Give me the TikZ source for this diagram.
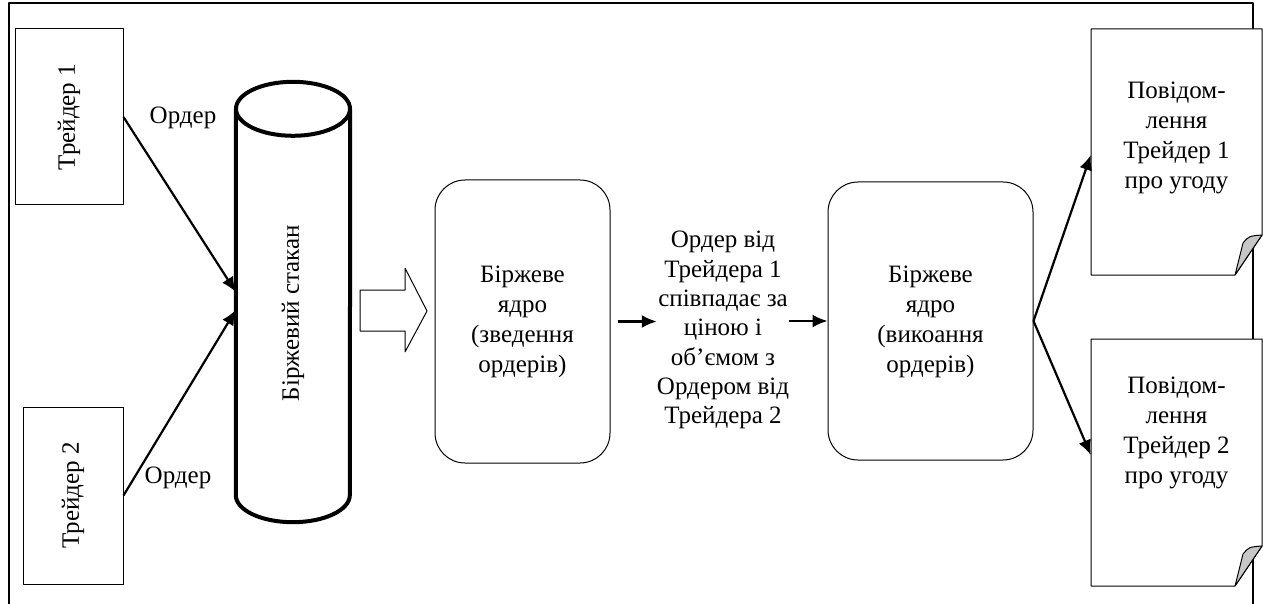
\documentclass[tikz,border=0pt]{standalone}
\usepackage{fontspec}
\setmainfont{Liberation Serif}
\usepackage{graphicx}
\usetikzlibrary{arrows.meta,positioning}

\tikzset{
  every node/.style={font=\fontsize{25}{30}\selectfont, inner sep=0pt},
  traderbox/.style={draw, line width=1pt, fill=white},
  corebox/.style={draw, line width=1pt, rounded corners=30pt},
  msgline/.style={draw, line width=1pt, fill=white},
  curlfill/.style={draw, line width=1pt, fill=black!22},
  cylline/.style={line width=4pt},
  edge/.style={draw, line width=2.2pt, -{Latex[length=15pt,width=13pt]}},
}

\begin{document}
\begin{tikzpicture}[x=1pt,y=-1pt,line join=bevel]
  \useasboundingbox (0,0) rectangle (1263,604);
  % Frame
  \draw[line width=2.5pt] (9,604) -- (9,3) -- (1253,3) -- (1253,604);
%%
  % Node: trader1
  \node[traderbox, minimum width=108pt, minimum height=176pt] (trader1) at (69,117) {\rotatebox{90}{Трейдер 1}};
  % Node: trader2
  \node[traderbox, minimum width=100pt, minimum height=177pt] (trader2) at (73,495.5) {\rotatebox{90}{Трейдер 2}};
  % Node: stakan
  \node[minimum width=114pt, minimum height=440pt] (stakan) at (293,302) {\rotatebox{90}{Біржевий стакан\hspace{22pt}}};
  \draw[cylline] ([yshift=-27pt]stakan.north west) -- ([yshift=27pt]stakan.south west)
    arc[start angle=180, end angle=360, x radius=57pt, y radius=27pt]
    -- ([yshift=-27pt]stakan.north east);
  \draw[cylline] ([yshift=-27pt]stakan.north) ellipse [x radius=57pt, y radius=27pt];
  % Node: core1
  \node[corebox, minimum width=175pt, minimum height=283pt] (core1) at (522.5,321.5) {\raisebox{9pt}{\begin{tabular}{@{}c@{}}
                        Біржеве \\ ядро \\ (зведення \\ ордерів)
                        \end{tabular}}};
  % Node: match
  \node[font=\fontsize{25}{29.3}\selectfont] (match) at (723,330) {\begin{tabular}{@{}c@{}}
                        Ордер від \\ Трейдера 1 \\ співпадає за \\ ціною і \\ об’ємом з \\ Ордером від \\ Трейдера 2
                        \end{tabular}};
  % Node: core2
  \node[corebox, minimum width=205pt, minimum height=278pt] (core2) at (930.5,321) {\begin{tabular}{@{}c@{}}
                        Біржеве \\ ядро \\ (викоання \\ ордерів)
                        \end{tabular}};
  % Node: msg1
  \draw[msgline] (1091,29) -- (1262,29) -- (1262,235) -- (1235,275) -- (1091,275) -- cycle;
  \draw[curlfill] (1235,275) -- (1243,243) .. controls (1249,236) .. (1262,235) -- cycle;
  \node[minimum width=171pt] (msg1) at (1176.5,138) {\begin{tabular}{@{}c@{}}
                        Повідом- \\ лення \\ Трейдер 1 \\ про угоду
                        \end{tabular}};
  % Node: msg2
  \draw[msgline] (1091,339) -- (1262,339) -- (1262,546) -- (1235,586) -- (1091,586) -- cycle;
  \draw[curlfill] (1235,586) -- (1243,554) .. controls (1249,547) .. (1262,546) -- cycle;
  \node[minimum width=171pt] (msg2) at (1176.5,432) {\begin{tabular}{@{}c@{}}
                        Повідом- \\ лення \\ Трейдер 2 \\ про угоду
                        \end{tabular}};
  % Edge: stakan -> core1
  \draw[line width=1pt] (360,290) -- (405,290) -- (405,268) -- (427,311) -- (405,352) -- (405,331) -- (360,331) -- cycle;
  % Edge: trader1 -> stakan
  \draw[edge] (trader1.east) -- ([yshift=10pt]stakan.west);
  \node (ord1) at (183,118) {Ордер};
  % Edge: trader2 -> stakan
  \draw[edge] (trader2.east) -- ([yshift=-8pt]stakan.west);
  \node (ord2) at (178,478) {Ордер};
  % Edge: core1 -> match
  \draw[edge] ([xshift=7pt]core1.east) -- (core1.east -| match.west);
  % Edge: match -> core2
  \draw[edge] (match.east |- core2.west) -- (core2.west);
  % Edge: core2 -> msg1
  \draw[edge] (core2.east) -- ([yshift=-17pt]msg1.west);
  % Edge: core2 -> msg2
  \draw[edge] (core2.east) -- ([yshift=-23pt]msg2.west);
%
\end{tikzpicture}
\end{document}
